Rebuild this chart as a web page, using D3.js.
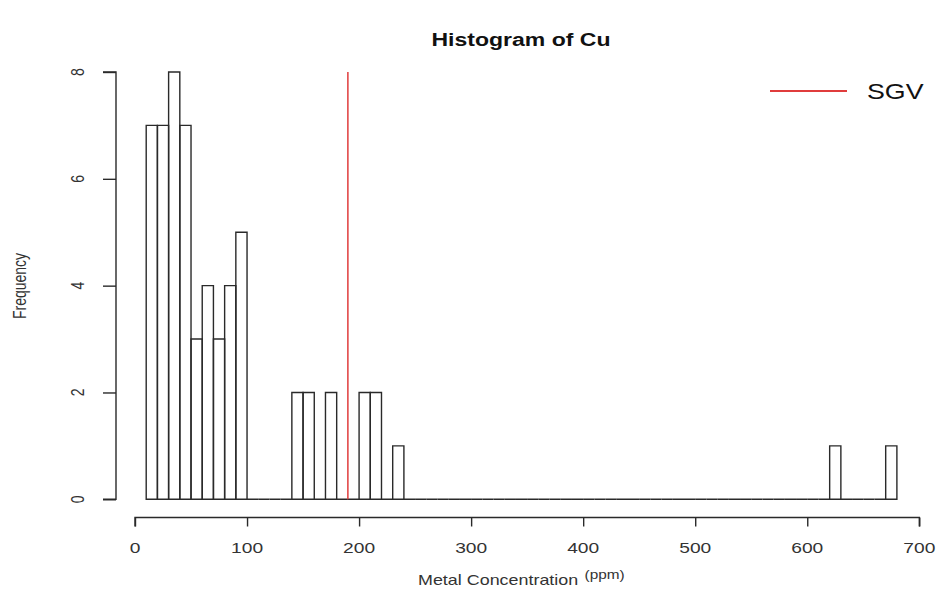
<!DOCTYPE html>
<html><head><meta charset="utf-8">
<script src="https://cdn.jsdelivr.net/npm/d3@7"></script>
<style>
html,body{margin:0;padding:0;background:#fff;}
svg text{font-family:"Liberation Sans", Arial, sans-serif;}
</style></head>
<body>
<svg id="chart" width="938" height="594"></svg>
<script>
// ---- data ----
const title = "Histogram of Cu";
const xLabel = "Metal Concentration";
const xUnit = "(ppm)";
const yLabel = "Frequency";
const binWidth = 10;
const firstBreak = 10;
const counts = [7,7,8,7,3,4,3,4,5, 0,0,0,0, 2,2,0,2,0,0,2,2,0,1,
  0,0,0,0,0,0,0,0,0,0, 0,0,0,0,0,0,0,0,0,0, 0,0,0,0,0,0,0,0,0,0, 0,0,0,0,0,0,0,0,
  1, 0,0,0,0, 1];
const xTicks = [0,100,200,300,400,500,600,700];
const yTicks = [0,2,4,6,8];
const sgvValue = 190;
const legendLabel = "SGV";

// ---- layout ----
const svg = d3.select("#chart");
const SX = 1.28; // horizontal stretch of text in the reference
const x = d3.scaleLinear().domain([0,700]).range([135,919.3]);
const y = d3.scaleLinear().domain([0,8]).range([499.3,72]);
const ink = "#2a2a2a";

const bins = counts.map((c,i)=>({x0: firstBreak + i*binWidth, x1: firstBreak + (i+1)*binWidth, n: c}));

// bars (R style: open rectangles, zero bins as baseline)
svg.append("g").selectAll("path").data(bins).join("path")
  .attr("d", d => `M${x(d.x0)},${y(0)}L${x(d.x0)},${y(d.n)}L${x(d.x1)},${y(d.n)}L${x(d.x1)},${y(0)}Z`)
  .attr("fill","none").attr("stroke",ink).attr("stroke-width",1.4);

// x axis
const xa = svg.append("g").attr("transform",`translate(0,517.5)`)
  .call(d3.axisBottom(x).tickValues(xTicks).tickSize(9).tickPadding(0).tickFormat(d=>""));
xa.select(".domain").attr("stroke",ink).attr("stroke-width",1.4).attr("d",`M${x(0)},9V0H${x(700)}V9`);
xa.selectAll(".tick line").attr("stroke",ink).attr("stroke-width",1.4);
svg.append("g").selectAll("text").data(xTicks).join("text")
  .attr("transform", d=>`translate(${x(d)},553) scale(${SX},1)`)
  .attr("text-anchor","middle").attr("font-size",15).attr("fill","#333").text(d=>d);

// y axis
const ya = svg.append("g").attr("transform",`translate(116,0)`)
  .call(d3.axisLeft(y).tickValues(yTicks).tickSize(13).tickFormat(d=>""));
ya.select(".domain").attr("stroke",ink).attr("stroke-width",1.4).attr("d",`M-13,${y(0)}H0V${y(8)}H-13`);
ya.selectAll(".tick line").attr("stroke",ink).attr("stroke-width",1.4);
svg.append("g").selectAll("text").data(yTicks).join("text")
  .attr("transform", d=>`translate(84,${y(d)}) scale(${SX},1) rotate(-90)`)
  .attr("text-anchor","middle").attr("font-size",14).attr("fill","#333").text(d=>d);

// SGV line
svg.append("line").attr("x1",x(sgvValue)).attr("x2",x(sgvValue)).attr("y1",y(0)).attr("y2",y(8))
  .attr("stroke","#e03c3c").attr("stroke-width",1.5);

// title
svg.append("text").attr("transform",`translate(521,46) scale(${SX},1)`)
  .attr("text-anchor","middle").attr("font-size",18).attr("font-weight","bold").attr("fill","#111").text(title);

// x label
const xl = svg.append("text").attr("transform",`translate(418,585) scale(${SX},1)`)
  .attr("font-size",14).attr("fill","#333");
xl.append("tspan").text(xLabel);
xl.append("tspan").attr("dx",5).attr("dy",-6).attr("font-size",12).text(xUnit);

// y label
svg.append("text").attr("transform",`translate(26,286) scale(${SX},1) rotate(-90)`)
  .attr("text-anchor","middle").attr("font-size",14).attr("fill","#333").text(yLabel);

// legend
svg.append("line").attr("x1",770).attr("x2",847).attr("y1",91).attr("y2",91)
  .attr("stroke","#e03c3c").attr("stroke-width",2);
svg.append("text").attr("transform",`translate(867,99) scale(${SX*0.95},1)`)
  .attr("font-size",22).attr("fill","#111").text(legendLabel);
</script>
</body></html>
